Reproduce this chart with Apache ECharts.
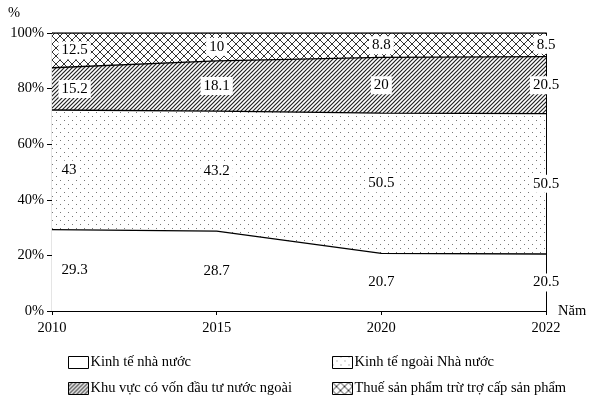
<!DOCTYPE html>
<html>
<head>
<meta charset="utf-8">
<script src="https://cdn.jsdelivr.net/npm/echarts@6/dist/echarts.min.js"></script>
<style>
  html, body { margin: 0; padding: 0; background: #fff; }
  #chart { width: 602px; height: 410px; }
</style>
</head>
<body>
<div id="chart"></div>
<script>
const years = ['2010', '2015', '2020', '2022']
const seriesNames = [
  'Kinh tế nhà nước',
  'Kinh tế ngoài Nhà nước',
  'Khu vực có vốn đầu tư nước ngoài',
  'Thuế sản phẩm trừ trợ cấp sản phẩm'
]
const stateEcon = [29.3, 28.7, 20.7, 20.5]
const nonStateEcon = [43, 43.2, 50.5, 50.5]
const foreignInvest = [15.2, 18.1, 20, 20.5]
const productTax = [12.5, 10, 8.8, 8.5]
const yTicks = [0, 20, 40, 60, 80, 100]

const FONT = '"Liberation Serif", "Times New Roman", serif'

// small canvas tiles used as fill patterns
function makeTile(size, draw) {
  const c = document.createElement('canvas')
  c.width = size; c.height = size
  const ctx = c.getContext('2d')
  ctx.fillStyle = '#fff'
  ctx.fillRect(0, 0, size, size)
  draw(ctx, size)
  return { image: c, repeat: 'repeat' }
}

const dotFill = makeTile(8, (ctx) => {
  ctx.fillStyle = '#777'
  ctx.fillRect(0, 0, 1, 1)
  ctx.fillRect(4, 4, 1, 1)
})

const hatchFill = makeTile(4, (ctx, s) => {
  ctx.strokeStyle = '#222'
  ctx.lineWidth = 1.2
  ctx.beginPath()
  ctx.moveTo(-1, s + 1); ctx.lineTo(s + 1, -1)
  ctx.moveTo(-1, 1); ctx.lineTo(1, -1)
  ctx.moveTo(s - 1, s + 1); ctx.lineTo(s + 1, s - 1)
  ctx.stroke()
})

const crossFill = makeTile(8, (ctx, s) => {
  ctx.strokeStyle = '#333'
  ctx.lineWidth = 1
  ctx.beginPath()
  ctx.moveTo(-1, s + 1); ctx.lineTo(s + 1, -1)
  ctx.moveTo(-1, 1); ctx.lineTo(1, -1)
  ctx.moveTo(s - 1, s + 1); ctx.lineTo(s + 1, s - 1)
  ctx.moveTo(-1, -1); ctx.lineTo(s + 1, s + 1)
  ctx.moveTo(s - 1, -1); ctx.lineTo(s + 1, 1)
  ctx.moveTo(-1, s - 1); ctx.lineTo(1, s + 1)
  ctx.stroke()
})

const bands = [stateEcon, nonStateEcon, foreignInvest, productTax]
const fills = ['#fff', dotFill, hatchFill, crossFill]

const areaSeries = bands.map((vals, i) => ({
  name: seriesNames[i],
  type: 'line',
  stack: 'total',
  data: vals,
  symbol: 'none',
  lineStyle: { color: '#000', width: 1.3 },
  itemStyle: { color: '#000' },
  areaStyle: { color: fills[i], opacity: 1 },
  z: 2
}))

// value labels sit at the middle of each band
const labelSeries = bands.map((vals, i) => ({
  type: 'scatter',
  symbol: 'rect',
  symbolSize: 1,
  itemStyle: { color: 'rgba(0,0,0,0)' },
  silent: true,
  z: 10,
  zlevel: 1,
  data: vals.map((v, k) => {
    let below = 0
    for (let j = 0; j < i; j++) below += bands[j][k]
    return {
      value: [k, below + v / 2, v],
      label: k === 0 ? { position: 'right', distance: 6 } : { position: 'inside' }
    }
  }),
  label: {
    show: true,
    formatter: p => String(p.value[2]),
    color: '#000',
    opacity: 1,
    fontFamily: FONT,
    fontSize: 15,
    backgroundColor: '#fff',
    padding: [2, 3, 1, 3]
  }
}))

const legendBase = {
  orient: 'vertical',
  top: 355,
  padding: 0,
  itemWidth: 20,
  itemHeight: 12,
  itemGap: 11,
  icon: 'rect',
  selectedMode: false,
  textStyle: { fontFamily: FONT, fontSize: 14.5, color: '#000', padding: [0, 0, 0, -3] }
}
const legendItem = i => ({
  name: seriesNames[i],
  itemStyle: { color: fills[i], borderColor: '#000', borderWidth: 1 }
})

const chart = echarts.init(document.getElementById('chart'))
chart.setOption({
  animation: false,
  grid: { left: 52, right: 56, top: 33, bottom: 99 },
  legend: [
    Object.assign({}, legendBase, { left: 68, data: [legendItem(0), legendItem(2)] }),
    Object.assign({}, legendBase, { left: 332, data: [legendItem(1), legendItem(3)] })
  ],
  xAxis: {
    type: 'category',
    data: years,
    boundaryGap: false,
    name: 'Năm',
    nameLocation: 'end',
    nameGap: 12,
    nameTextStyle: { fontFamily: FONT, fontSize: 14.5, color: '#000', padding: [44, 0, 0, 0] },
    axisLine: { lineStyle: { color: '#000', width: 1.2 } },
    axisTick: { length: 4, lineStyle: { color: '#000' } },
    axisLabel: { fontFamily: FONT, fontSize: 14.5, color: '#000', margin: 10 }
  },
  yAxis: [{
    type: 'value',
    min: yTicks[0],
    max: yTicks[yTicks.length - 1],
    interval: 20,
    name: '%',
    nameLocation: 'end',
    nameGap: 12,
    nameTextStyle: { fontFamily: FONT, fontSize: 14.5, color: '#000', padding: [0, 76, 0, 0] },
    axisLine: { show: true, lineStyle: { color: '#000', width: 1.2 } },
    axisTick: { show: true, length: 5, lineStyle: { color: '#000' } },
    axisLabel: { fontFamily: FONT, fontSize: 14.5, color: '#000', margin: 8, formatter: '{value}%' },
    splitLine: { show: false }
  }, {
    type: 'value',
    position: 'right',
    min: 0,
    max: 100,
    axisLine: { show: true, lineStyle: { color: '#000', width: 1 } },
    axisTick: { show: false },
    axisLabel: { show: false },
    splitLine: { show: false }
  }],
  series: areaSeries.concat(labelSeries)
})
</script>
</body>
</html>
